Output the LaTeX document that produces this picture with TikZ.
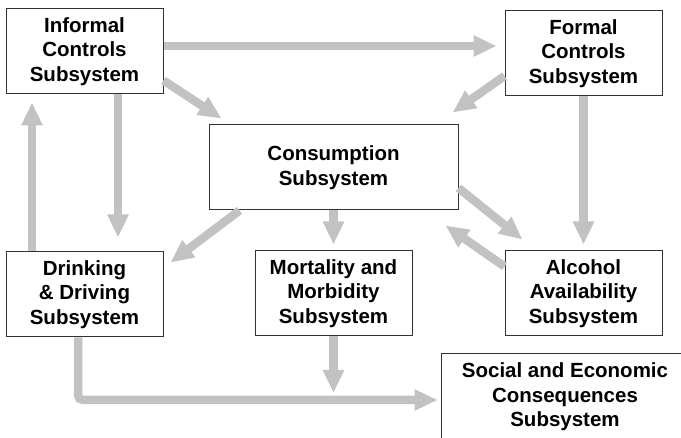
\documentclass[tikz,border=0pt]{standalone}
\usepackage{fontspec}
\setmainfont{Liberation Sans}
\usetikzlibrary{arrows.meta,calc}
\definecolor{flowgray}{RGB}{194,194,194}
\definecolor{boxline}{RGB}{50,50,50}
\begin{document}
\begin{tikzpicture}[x=1pt,y=-1pt,
  subsys/.style={draw=boxline,line width=1pt,fill=white,inner sep=0pt,
    minimum width=157pt,minimum height=85pt,align=center,
    font=\fontsize{20.5}{24.5}\selectfont\bfseries},
  flow/.style={draw=flowgray,line width=8.5pt,
    -{Triangle[width=20pt,length=23pt]}}]
\useasboundingbox (0,0) rectangle (681,438);
\clip (0,0) rectangle (681,438);

% subsystem boxes
\node[subsys] (inf) at (84.5,51.5) {Informal\\Controls\\Subsystem};
\node[subsys] (form) at (583.5,53.5) {Formal\\Controls\\Subsystem};
\node[subsys,minimum width=249pt] (con) at (333.5,167.5) {Consumption\\Subsystem};
\node[subsys] (drk) at (84.5,294.5) {Drinking\\\& Driving\\Subsystem};
\node[subsys] (mor) at (333.5,293.5) {Mortality and\\Morbidity\\Subsystem};
\node[subsys] (alc) at (583.5,293.5) {Alcohol\\Availability\\Subsystem};
\node[subsys,minimum width=248pt,minimum height=86pt] (soc) at (565,397)
  {Social and Economic\\Consequences\\Subsystem};

% influences between subsystems
\draw[flow,shorten >=8pt] ([yshift=5.5pt]inf.east) -- ([yshift=5.5pt]inf.east -| form.west);
\draw[flow] ([yshift=14pt]inf.south east) -- ([xshift=13pt,yshift=6pt]con.north west);
\draw[flow,shorten >=14pt] ([xshift=33.5pt]inf.south) -- ([xshift=33.5pt]drk.north);
\draw[flow,shorten >=8pt] ([xshift=-52.5pt]drk.north) -- ([xshift=-52.5pt]inf.south);
\draw[flow] ([yshift=-22.5pt]form.west) -- ([xshift=-6pt,yshift=12pt]con.north east);
\draw[flow,shorten >=6pt] (form.south) -- (alc.north);
\draw[flow] ([xshift=31pt]con.south west) -- ([xshift=7pt,yshift=-11pt]drk.north east);
\draw[flow,shorten >=6pt] (con.south) -- (mor.north);
\draw[flow] ([yshift=-20.5pt]con.east) -- ([xshift=18pt,yshift=11pt]alc.north west);
\draw[flow] ([yshift=-16pt]alc.north west) -- ([xshift=-13pt,yshift=-15pt]con.south east);
\draw[flow] (mor.south) -- ([yshift=4pt]mor.south |- soc.west);
\draw[flow,rounded corners=5pt,shorten >=3pt] ([xshift=-6.5pt]drk.south) |- ([yshift=-3pt]soc.west);
\end{tikzpicture}
\end{document}
